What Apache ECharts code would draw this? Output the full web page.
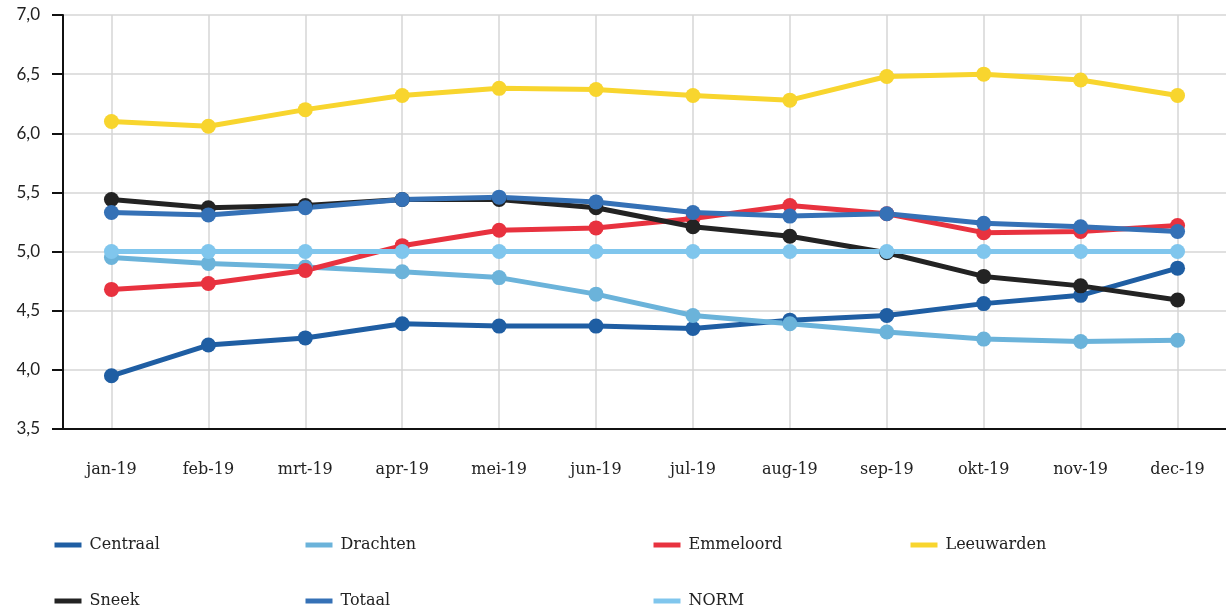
<!DOCTYPE html>
<html>
<head>
<meta charset="utf-8">
<script src="https://cdn.jsdelivr.net/npm/echarts@6/dist/echarts.min.js"></script>
<style>
  html, body { margin: 0; padding: 0; background: #fff; }
  #chart { width: 1226px; height: 609px; }
</style>
</head>
<body>
<div id="chart"></div>
<script>
const months = ['jan-19', 'feb-19', 'mrt-19', 'apr-19', 'mei-19', 'jun-19', 'jul-19', 'aug-19', 'sep-19', 'okt-19', 'nov-19', 'dec-19']

const centraal = [3.95, 4.21, 4.27, 4.39, 4.37, 4.37, 4.35, 4.42, 4.46, 4.56, 4.63, 4.86]
const drachten = [4.95, 4.90, 4.87, 4.83, 4.78, 4.64, 4.46, 4.39, 4.32, 4.26, 4.24, 4.25]
const emmeloord = [4.68, 4.73, 4.84, 5.05, 5.18, 5.20, 5.28, 5.39, 5.32, 5.16, 5.17, 5.22]
const leeuwarden = [6.10, 6.06, 6.20, 6.32, 6.38, 6.37, 6.32, 6.28, 6.48, 6.50, 6.45, 6.32]
const sneek = [5.44, 5.37, 5.39, 5.44, 5.44, 5.37, 5.21, 5.13, 4.99, 4.79, 4.71, 4.59]
const totaal = [5.33, 5.31, 5.37, 5.44, 5.46, 5.42, 5.33, 5.30, 5.32, 5.24, 5.21, 5.17]
const norm = [5.0, 5.0, 5.0, 5.0, 5.0, 5.0, 5.0, 5.0, 5.0, 5.0, 5.0, 5.0]

const seriesDefs = [
  { name: 'Centraal', data: centraal, color: '#1f5ea3' },
  { name: 'Drachten', data: drachten, color: '#6bb3da' },
  { name: 'Emmeloord', data: emmeloord, color: '#e8323f' },
  { name: 'Leeuwarden', data: leeuwarden, color: '#f8d52e' },
  { name: 'Sneek', data: sneek, color: '#232323' },
  { name: 'Totaal', data: totaal, color: '#3571b6' },
  { name: 'NORM', data: norm, color: '#80c6ed' }
]

const serifFont = '"DejaVu Serif", serif'
const sansFont = 'Lato, "Noto Sans", sans-serif'

// legenda: 4 kolommen, 2 rijen -> één legend per item
const legendCols = [47, 298, 646, 903]
const legendRows = [532, 588]

const option = {
  animation: false,
  grid: {
    left: 63,
    top: 15,
    right: 0,
    bottom: 180
  },
  legend: seriesDefs.map(function (s, i) {
    return {
      left: legendCols[i % 4],
      top: legendRows[Math.floor(i / 4)],
      itemWidth: 27,
      itemHeight: 5,
      itemGap: 0,
      itemStyle: { opacity: 0 }, // geen bolletje in het icoon
      lineStyle: { width: 5, cap: 'butt' },
      textStyle: { fontFamily: serifFont, fontSize: 16, color: '#222', padding: [0, 0, 0, 3] },
      data: [s.name]
    }
  }),
  xAxis: {
    type: 'category',
    data: months,
    boundaryGap: true,
    axisLine: { lineStyle: { color: '#111', width: 2 } },
    axisTick: { alignWithLabel: true, length: 9, lineStyle: { color: '#111', width: 2 } },
    axisLabel: { margin: 33, fontFamily: serifFont, fontSize: 16, color: '#222' },
    splitLine: { show: true, alignWithLabel: true, lineStyle: { color: '#d6d6d6', width: 1.5 } }
  },
  yAxis: {
    type: 'value',
    min: 3.5,
    max: 7,
    interval: 0.5,
    axisLine: { show: true, lineStyle: { color: '#111', width: 2 } },
    axisTick: { show: true, length: 11, lineStyle: { color: '#111', width: 2 } },
    axisLabel: {
      margin: 23,
      fontFamily: sansFont,
      fontSize: 17,
      color: '#222',
      formatter: function (v) { return v.toFixed(1).replace('.', ',') }
    },
    splitLine: { lineStyle: { color: '#d6d6d6', width: 1.5 } }
  },
  series: seriesDefs.map(function (s) {
    return {
      name: s.name,
      type: 'line',
      data: s.data,
      color: s.color,
      symbol: 'circle',
      symbolSize: 15,
      lineStyle: { width: 5 },
      emphasis: { disabled: true }
    }
  })
}

const chart = echarts.init(document.getElementById('chart'))
chart.setOption(option)
</script>
</body>
</html>
